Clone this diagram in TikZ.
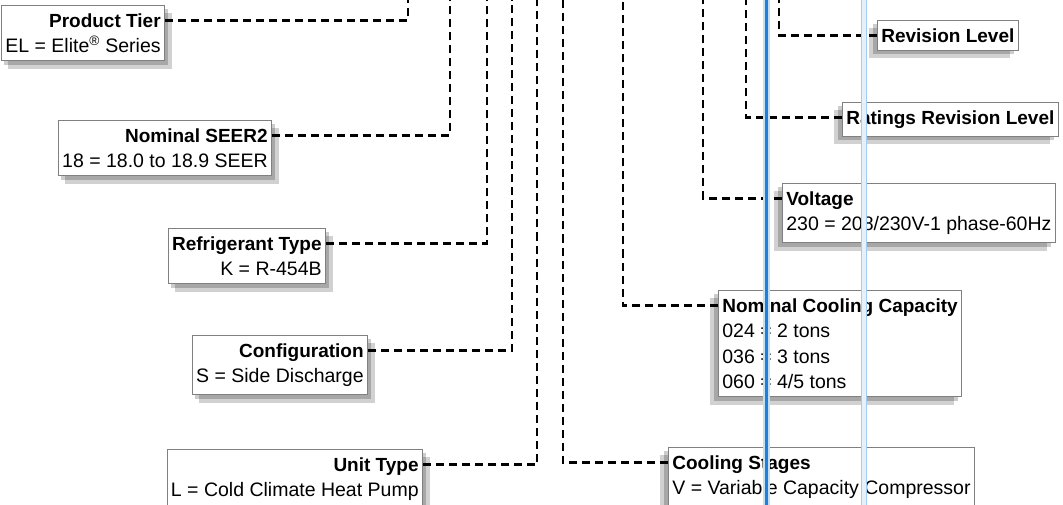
\documentclass[tikz,border=0pt]{standalone}
\usepackage{fontspec}
\setmainfont{Liberation Sans}
\usepackage{tikz}
\definecolor{guideblue}{RGB}{30,128,214}
\colorlet{guidelight}{guideblue!40}
\colorlet{boxedge}{black!50}
\tikzset{>=latex}
\usetikzlibrary{shadows}

\begin{document}
\begin{tikzpicture}[x=1pt, y=-1pt,
                line cap=butt, line join=miter,
                box/.style={draw=boxedge, line width=0.7pt, fill=white,
                    inner xsep=4pt, inner ysep=8pt,
                    font=\fontsize{19.5}{25.5}\selectfont},
                leftbox/.style={box, anchor=north east, align=right,
                    drop shadow={shadow xshift=3pt, shadow yshift=-4pt, fill=black, opacity=0.2},
                    drop shadow={shadow xshift=7pt, shadow yshift=-8pt, fill=black, opacity=0.18}},
                rightbox/.style={box, anchor=north west, align=left,
                    drop shadow={shadow xshift=-4pt, shadow yshift=-4pt, fill=black, opacity=0.2},
                    drop shadow={shadow xshift=-8pt, shadow yshift=-8pt, fill=black, opacity=0.18}},
                lead/.style={black, line width=2.6pt, dash pattern=on 8pt off 5pt}]
                \useasboundingbox (0,0) rectangle (1063,505);
                \def\capgap{15.5pt} % title line below the top of a box
                \def\hd#1{{\fontsize{19}{25.5}\selectfont\bfseries #1}} % box title

                % left column of boxes
                \node[leftbox] (tier)   at (165,5)   {\hd{Product Tier}\\EL = Elite\textsuperscript{®} Series};
                \node[leftbox] (seer)   at (272,120) {\hd{Nominal SEER2}\\18 = 18.0 to 18.9 SEER};
                \node[leftbox] (refrig) at (326,228) {\hd{Refrigerant Type}\\K = R-454B};
                \node[leftbox] (config) at (368,335) {\hd{Configuration}\\S = Side Discharge};
                \node[leftbox] (unit)   at (423,449) {\hd{Unit Type}\\L = Cold Climate Heat Pump};

                % right column of boxes
                \node[rightbox] (rev)    at (877,20)  {\hd{Revision Level}};
                \node[rightbox] (rating) at (842,102) {\hd{Ratings Revision Level}};
                \node[rightbox] (volt)   at (782,183) {\hd{Voltage}\\230 = 208/230V-1 phase-60Hz};
                \node[rightbox] (ncc)    at (718,290) {\hd{Nominal Cooling Capacity}\\024 = 2 tons\\036 = 3 tons\\060 = 4/5 tons};
                \node[rightbox] (stages) at (668,447) {\hd{Cooling Stages}\\V = Variable Capacity Compressor};

                % dashed leaders up to the model number
                \foreach \nm/\side/\xup in {tier/east/408, seer/east/450, refrig/east/487,
                    config/east/512, unit/east/537, stages/west/563, ncc/west/623,
                    volt/west/703, rating/west/746, rev/west/779}{
                    \coordinate (\nm up) at (\xup,0);
                    \draw[lead] ([yshift=-\capgap]\nm.north \side) -| (\nm up);
                }

                % guide lines on top
                \fill[guidelight!30] (861,0) rectangle (866,505);
                \draw[guidelight, line width=0.8pt] (861,0) -- (861,505) (866,0) -- (866,505);
                \draw[guideblue!25, line width=7pt] (766,0) -- (766,505);
                \draw[guideblue, line width=3pt] (766,0) -- (766,505);
\end{tikzpicture}
\end{document}
